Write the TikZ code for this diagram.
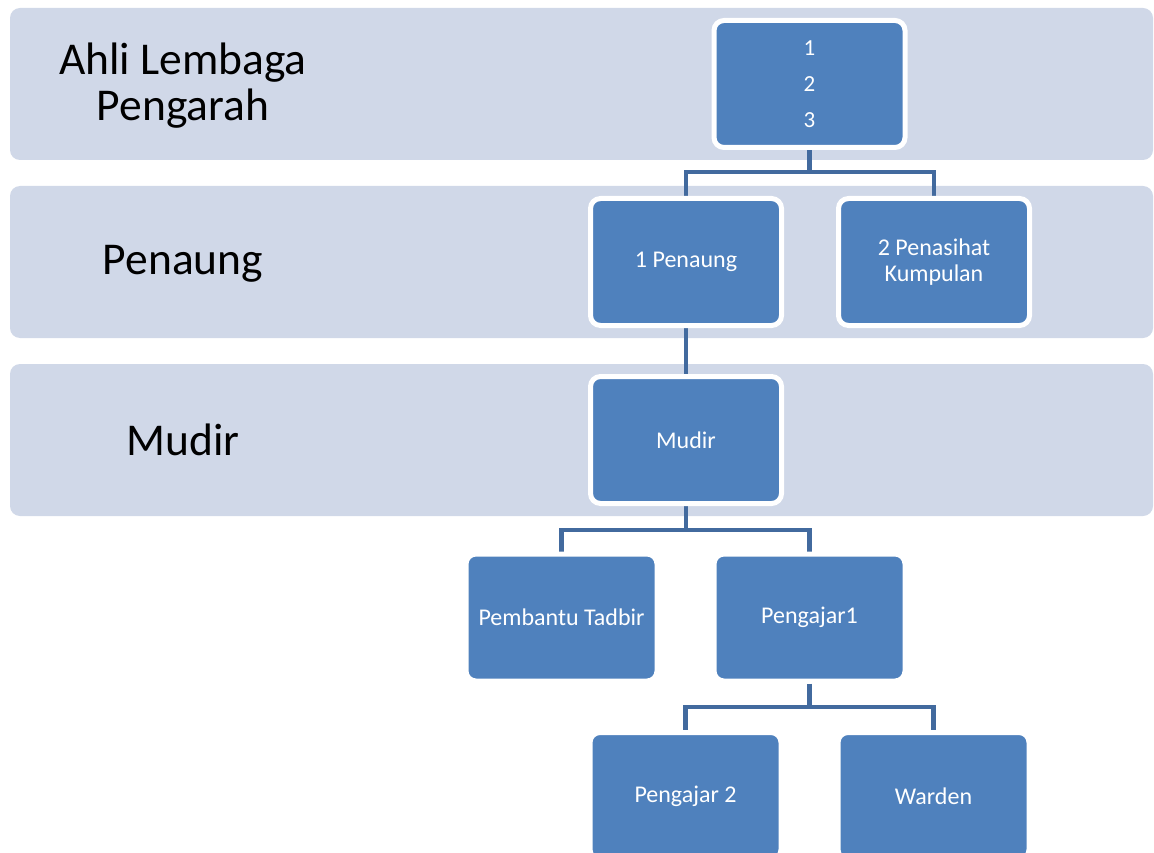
\documentclass[tikz,border=0pt]{standalone}
\usepackage{fontspec}
\setmainfont{Carlito}
\usetikzlibrary{backgrounds}
\definecolor{bandfill}{RGB}{208,216,232}
\definecolor{boxblue}{RGB}{79,129,189}
\definecolor{linkblue}{RGB}{66,106,158}
\tikzset{
  band/.style={fill=bandfill, draw=none, rounded corners=10pt},
  bandlabel/.style={align=center, font=\fontsize{45.5}{46}\selectfont, text=black, inner sep=0pt},
  orgbox/.style={rectangle, rounded corners=10pt, fill=boxblue, draw=white, line width=5pt,
    minimum width=191pt, minimum height=127pt, text=white, align=center, inner sep=2pt,
    font=\fontsize{24}{26}\selectfont},
  link/.style={draw=linkblue, line width=4.5pt}
}
\begin{document}
\begin{tikzpicture}[x=1pt,y=-1pt]
\useasboundingbox (0,0) rectangle (1154,853);
\clip (0,0) rectangle (1154,853);
\begin{pgfonlayer}{background}
  \fill[white] (0,0) rectangle (1154,853);
  \path[band] (10,8) rectangle (1153,160);
  \path[band] (10,186) rectangle (1153,338);
  \path[band] (10,364) rectangle (1153,516);
\end{pgfonlayer}
\node[bandlabel] (lblA) at (183,86) {Ahli Lembaga\\Pengarah};
\node[bandlabel] (lblB) at (183,264) {Penaung};
\node[bandlabel] (lblC) at (183,440) {Mudir};

\node[orgbox, font=\fontsize{23}{36}\selectfont] (top) at (809.5,84) {1\\2\\3};
\node[orgbox] (penaung) at (686,262) {1 Penaung};
\node[orgbox] (penasihat) at (934,262) {2 Penasihat\\Kumpulan};
\node[orgbox] (mudir) at (686,440) {Mudir};
\node[orgbox] (pembantu) at (561.5,617.5) {Pembantu Tadbir};
\node[orgbox] (pengajarA) at (809.5,617.5) {Pengajar1};
\node[orgbox] (pengajarB) at (685.5,796) {Pengajar 2};
\node[orgbox] (warden) at (933.5,796) {Warden};

\begin{pgfonlayer}{background}
  \draw[link] (top.south) -- (top.south |- 0,172) -| (penaung.north);
  \draw[link] (top.south) -- (top.south |- 0,172) -| (penasihat.north);
  \draw[link] (penaung.south) -- (mudir.north);
  \draw[link] (mudir.south) -- (mudir.south |- 0,530) -| (pembantu.north);
  \draw[link] (mudir.south) -- (mudir.south |- 0,530) -| (pengajarA.north);
  \draw[link] (pengajarA.south) -- (pengajarA.south |- 0,707) -| (pengajarB.north);
  \draw[link] (pengajarA.south) -- (pengajarA.south |- 0,707) -| (warden.north);
\end{pgfonlayer}
\end{tikzpicture}
\end{document}
